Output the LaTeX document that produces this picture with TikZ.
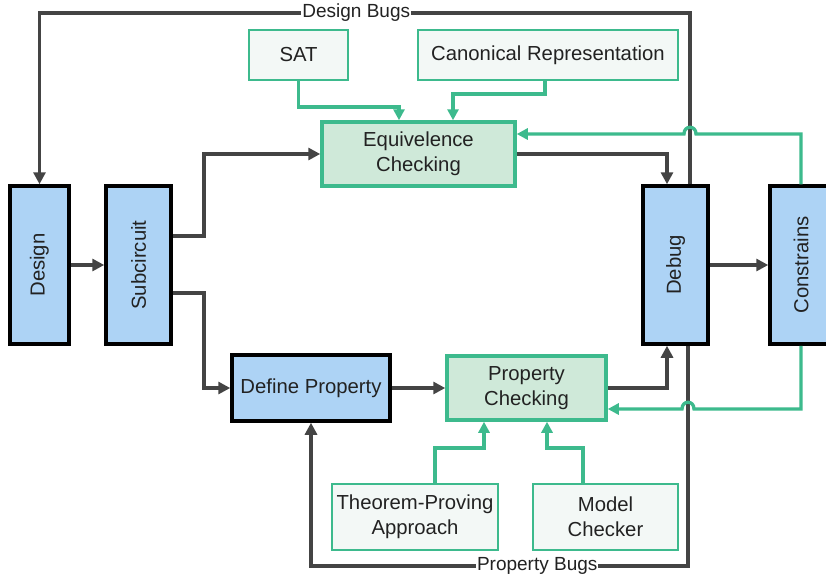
\documentclass[tikz,border=0pt]{standalone}
\usepackage{fontspec}
\setmainfont{Liberation Sans}
\usetikzlibrary{arrows.meta}
\definecolor{blufill}{HTML}{ADD3F5}
\definecolor{grnfill}{HTML}{CFE9D9}
\definecolor{grnline}{HTML}{3DBA8D}
\definecolor{palefill}{HTML}{F3F8F6}
\definecolor{darkline}{HTML}{444444}
\definecolor{txt}{HTML}{222222}
\begin{document}
\begin{tikzpicture}[x=1pt,y=-1pt,
  every node/.style={text=txt,font=\fontsize{20.3}{25}\selectfont,align=center,inner sep=0pt},
  bluebox/.style={draw=black,line width=3.5pt,fill=blufill},
  grnbox/.style={draw=grnline,line width=3.5pt,fill=grnfill},
  palebox/.style={draw=grnline,line width=2.5pt,fill=palefill},
  dk/.style={draw=darkline,line width=3.5pt,-{Triangle[length=12pt,width=12pt]}},
  gr/.style={draw=grnline,line width=3.3pt,-{Triangle[length=11pt,width=11pt]}},
  lbl/.style={fill=white,inner xsep=1pt,inner ysep=1pt,font=\fontsize{19}{22}\selectfont}]
\useasboundingbox (0,0) rectangle (826,576);
\fill[white] (0,0) rectangle (826,576);

% main chain of blocks (upright boxes, text turned sideways)
\node[bluebox,minimum width=59pt,minimum height=158pt] (design) at (39.5,265) {\rotatebox{90}{Design}};
\node[bluebox,minimum width=65pt,minimum height=158pt] (sub) at (138.5,265) {\rotatebox{90}{Subcircuit}};
\node[bluebox,minimum width=65pt,minimum height=158pt] (debug) at (675.5,265) {\rotatebox{90}{Debug}};
\node[bluebox,minimum width=62pt,minimum height=158pt] (cons) at (801,265) {\rotatebox{90}{Constrains}};

% checking stages
\node[grnbox,minimum width=193pt,minimum height=64pt] (eq) at (418.5,154) {Equivelence\\Checking};
\node[grnbox,minimum width=159pt,minimum height=64pt] (propc) at (526.5,388) {Property\\Checking};
\node[bluebox,minimum width=158pt,minimum height=66pt] (defp) at (311,388) {Define Property};

% supporting techniques
\node[palebox,minimum width=99pt,minimum height=50pt] (sat) at (298.5,55) {SAT};
\node[palebox,minimum width=260pt,minimum height=50pt] (canon) at (548,55) {Canonical Representation};
\node[palebox,minimum width=166pt,minimum height=66pt] (thm) at (415,517) {Theorem-Proving\\Approach};
\node[palebox,minimum width=145pt,minimum height=66pt] (model) at (605.5,517) {Model\\Checker};

% named bends of the connectors
\coordinate (topy) at (0,13);
\coordinate (boty) at (0,566);
\coordinate (eqfb) at (0,134);
\coordinate (pcfb) at (0,409);

% forward flow
\draw[dk] (design.east) -- (sub.west);
\draw[dk] ([yshift=29pt]sub.east) -- (204,236) |- (eq.west);
\draw[dk] ([yshift=-28pt]sub.east) -- (204,293) |- (defp.west);
\draw[dk] (defp.east) -- (propc.west);
\draw[dk] (eq.east) -| ([xshift=-8.5pt]debug.north);
\draw[dk] (propc.east) -| ([xshift=-8.5pt]debug.south);
\draw[dk] (debug.east) -- (cons.west);

% bug feedback loops
\draw[dk] ([xshift=14.5pt]debug.north) -- ([xshift=14.5pt]debug.north |- topy)
  -- node[lbl,pos=0.513]{Design Bugs} (design.north |- topy) -- (design.north);
\draw[dk] ([xshift=12.5pt]debug.south) -- ([xshift=12.5pt]debug.south |- boty)
  -- node[lbl,pos=0.40]{Property Bugs} (defp.south |- boty) -- (defp.south);

% technique inputs
\draw[gr] (sat.south) -- (sat.south |- 0,107) -| ([xshift=-19.5pt]eq.north);
\draw[gr] ([xshift=-3pt]canon.south) -- ([xshift=-3pt]canon.south |- 0,94) -| ([xshift=34.5pt]eq.north);
\draw[gr] ([xshift=20pt]thm.north) -- ([xshift=20pt]thm.north |- 0,448) -| ([xshift=-42.5pt]propc.south);
\draw[gr] ([xshift=-22.5pt]model.north) -- ([xshift=-22.5pt]model.north |- 0,448) -| ([xshift=20.5pt]propc.south);

% constraint feedback, hopping over the bug loops
\draw[gr] (cons.north) -- (cons.north |- eqfb) -- (696,134)
  .. controls (696,125) and (684,125) .. (684,134) -- (eq.east |- eqfb);
\draw[gr] (cons.south) -- (cons.south |- pcfb) -- (694,409)
  .. controls (694,400) and (682,400) .. (682,409) -- (propc.east |- pcfb);
\end{tikzpicture}
\end{document}
